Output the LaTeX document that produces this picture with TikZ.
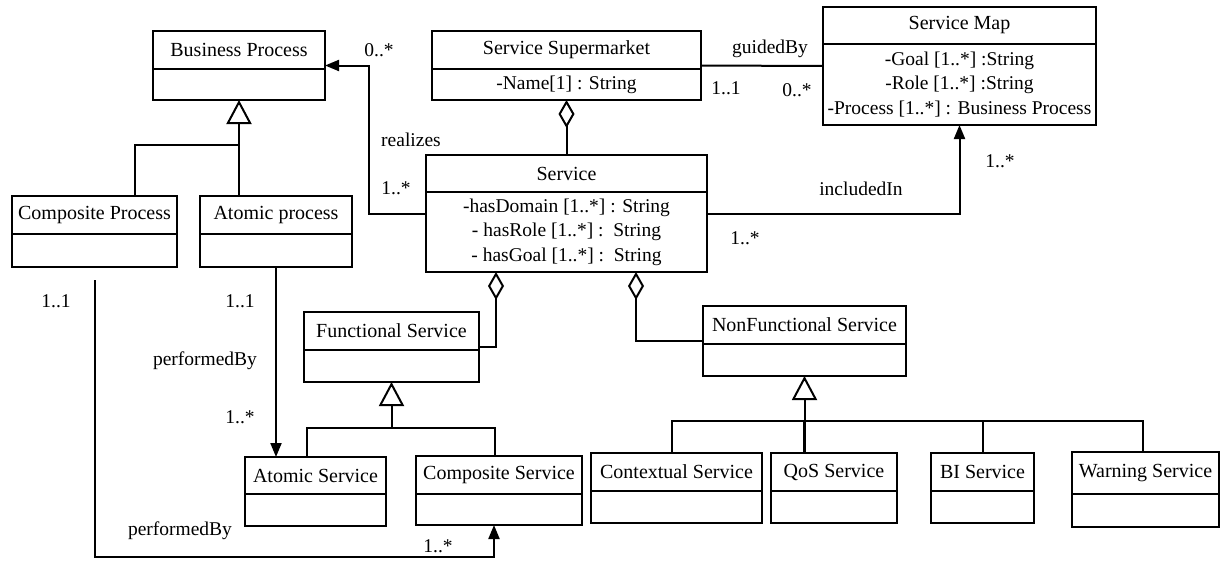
\documentclass[tikz,border=0pt]{standalone}
\usepackage{fontspec}
\setmainfont{Liberation Serif}
\usetikzlibrary{arrows.meta,calc}
\tikzset{
  umlbox/.style={draw, line width=2pt, inner sep=0pt, outer sep=0pt},
  boxtext/.style={font=\fontsize{19.5}{24.5}\selectfont, inner sep=0pt, align=center},
  nametext/.style={boxtext, font=\fontsize{20}{24.5}\selectfont},
  wire/.style={line width=2pt},
  assoc/.style={wire, -{Triangle[length=14pt,width=11pt]}},
  gen/.style={wire, -{Triangle[open,length=24pt,width=25pt,fill=white]}},
  agg/.style={wire, -{Diamond[open,length=28pt,width=16pt,fill=white]}},
  mult/.style={font=\fontsize{19.5}{24}\selectfont, inner sep=0pt},
}
% UML class: name, x1, y1, x2, y2, divider y, class name, attributes
\newcommand\umlclass[8]{%
  \node[umlbox, minimum width={(#4)-(#2)}, minimum height={(#5)-(#3)}] (#1)
    at ({((#2)+(#4))/2},{((#3)+(#5))/2}) {};
  \draw[wire] (#2,#6) -- (#4,#6);
  \node[nametext] (#1-name) at ({((#2)+(#4))/2},{((#3)+(#6))/2}) {#7};
  \node[boxtext] (#1-attr) at ({((#2)+(#4))/2},{((#6)+(#5))/2}) {#8};
}
\begin{document}
\begin{tikzpicture}[x=1pt,y=-1pt]
\useasboundingbox (0,0) rectangle (1221,560);

% classes
\umlclass{bp}{153}{31}{325}{100}{69}{Business Process}{}
\umlclass{cp}{12}{196}{177}{267}{234}{Composite Process}{}
\umlclass{ap}{200}{196}{352}{267}{234}{Atomic process}{}
\umlclass{ss}{432}{31}{701}{100}{69}{Service Supermarket}{-Name[1] : String}
\umlclass{sm}{823}{7}{1096}{125}{44}{Service Map}{-Goal [1..*] :String\\-Role [1..*] :String\\-Process [1..*] : Business Process}
\umlclass{srv}{426}{155}{707}{272}{192}{Service}{-hasDomain [1..*] : String\\- hasRole [1..*] :\ \ String\\- hasGoal [1..*] :\ \ String}
\umlclass{fs}{304}{312}{479}{382}{350}{Functional Service}{}
\umlclass{nfs}{703}{306}{906}{376}{344}{NonFunctional Service}{}
\umlclass{as}{245}{457}{386}{526}{494}{Atomic Service}{}
\umlclass{cs}{416}{456}{582}{525}{494}{Composite Service}{}
\umlclass{ctx}{591}{453}{762}{523}{491}{Contextual Service}{}
\umlclass{qos}{771}{453}{897}{523}{491}{QoS Service}{}
\umlclass{bi}{931}{453}{1034}{523}{491}{BI Service}{}
\umlclass{warn}{1072}{452}{1219}{527}{494}{Warning Service}{}

% junction points of the generalization trees
\coordinate (bpj) at (239,145);
\coordinate (cpj) at (135,145);
\coordinate (fsj) at (391.5,428);
\coordinate (asj) at (307,428);
\coordinate (csj) at (495,428);
\coordinate (nfj) at (804.5,421);
\coordinate (ctj) at (672,421);
\coordinate (wsj) at (1143,421);
\coordinate (cpe) at (494,557);

% generalizations
\draw[gen] (bpj) -- (bp.south);
\draw[wire] (ap.north -| bpj) -- (bpj);
\draw[wire] (cp.north -| cpj) |- (bpj);

\draw[gen] (fsj) -- (fs.south);
\draw[wire] (as.north -| asj) |- (csj) -- (cs.north -| csj);

\draw[gen] (nfj) -- (nfs.south);
\draw[wire] (ctx.north -| ctj) |- (wsj) -- (warn.north -| wsj);
\draw[wire, line width=2.6pt] (qos.north -| nfj) -- (nfj);
\draw[wire] (bi.north) -- (bi.north |- nfj);

% aggregations
\draw[agg] (srv.north) -- (ss.south);
\draw[agg] (fs.east) -| ([xshift=-70.5pt]srv.south);
\draw[agg] (nfs.west) -| ([xshift=69.5pt]srv.south);

% associations
\draw[assoc] (srv.west) -- ++(-57,0) |- (bp.east);
\draw[wire] (ss.east) -- (sm.west);
\draw[assoc] (srv.east) -| (sm.south);
\draw[assoc] (ap.south) -- (ap.south |- as.north);
\draw[assoc] ([yshift=-13pt]cp.south) |- (cpe) -- (cpe |- cs.south);

% association labels and multiplicities
\node[mult] (m1) at (379,50) {0..*};
\node[mult] (l1) at (411,140) {realizes};
\node[mult] (m2) at (396,188) {1..*};
\node[mult] (l2) at (770,49) {guidedBy};
\node[mult] (m3) at (726,88) {1..1};
\node[mult] (m4) at (797,90) {0..*};
\node[mult] (m5) at (1000,161) {1..*};
\node[mult] (l3) at (861,189) {includedIn};
\node[mult] (m6) at (745,238) {1..*};
\node[mult] (m7) at (56,301) {1..1};
\node[mult] (m8) at (240,301) {1..1};
\node[mult] (l4) at (205,361) {performedBy};
\node[mult] (m9) at (240,417) {1..*};
\node[mult] (l5) at (180,531) {performedBy};
\node[mult] (m10) at (438,546) {1..*};
\end{tikzpicture}
\end{document}
